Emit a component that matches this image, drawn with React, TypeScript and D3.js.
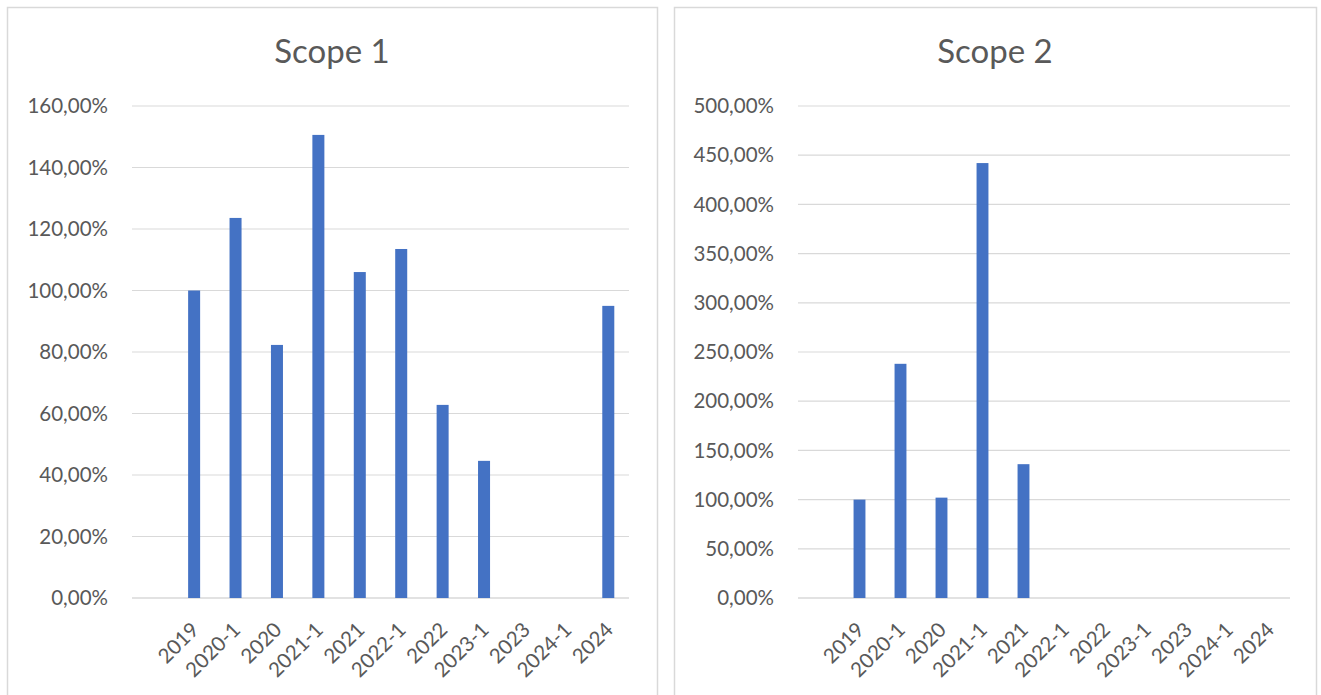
import React, { useEffect, useRef } from 'react'
import * as d3 from 'd3'

// first category is blank in the source workbook
const categories = ['', '2019', '2020-1', '2020', '2021-1', '2021', '2022-1', '2022', '2023-1', '2023', '2024-1', '2024']

const scope1Values: (number | null)[] = [null, 100, 123.6, 82.3, 150.6, 106.0, 113.5, 62.8, 44.6, null, null, 95.0]
const scope2Values: (number | null)[] = [null, 100, 238, 102, 442, 136, null, null, null, null, null, null]

const scope1Ticks = [0, 20, 40, 60, 80, 100, 120, 140, 160]
const scope2Ticks = [0, 50, 100, 150, 200, 250, 300, 350, 400, 450, 500]

const FONT = 'Lato, "Open Sans", sans-serif'
const TEXT = '#595959'
const GRID = '#D9D9D9'
const BAR = '#4472C4'

const fmt = (v: number) => v.toFixed(2).replace('.', ',') + '%'

interface PanelSpec {
  title: string
  values: (number | null)[]
  ticks: number[]
  box: { x: number; y: number; w: number; h: number }
  plot: { left: number; right: number; top: number; bottom: number }
}

const panels: PanelSpec[] = [
  {
    title: 'Scope 1',
    values: scope1Values,
    ticks: scope1Ticks,
    box: { x: 7, y: 7, w: 650, h: 700 },
    plot: { left: 132, right: 629, top: 106, bottom: 598 },
  },
  {
    title: 'Scope 2',
    values: scope2Values,
    ticks: scope2Ticks,
    box: { x: 674, y: 7, w: 642, h: 700 },
    plot: { left: 798, right: 1290, top: 106, bottom: 598 },
  },
]

export default function App() {
  const svgRef = useRef<SVGSVGElement>(null)

  useEffect(() => {
    if (!svgRef.current) return
    const svg = d3.select(svgRef.current)
    svg.selectAll('*').remove()

    panels.forEach((p) => {
      const g = svg.append('g')

      g.append('rect')
        .attr('x', p.box.x + 0.5)
        .attr('y', p.box.y + 0.5)
        .attr('width', p.box.w)
        .attr('height', p.box.h)
        .attr('fill', '#fff')
        .attr('stroke', GRID)
        .attr('stroke-width', 1.5)

      g.append('text')
        .attr('x', p.box.x + p.box.w / 2)
        .attr('y', 63)
        .attr('text-anchor', 'middle')
        .attr('fill', TEXT)
        .style('font-family', FONT)
        .style('font-size', '33px')
        .text(p.title)

      const x = d3.scaleBand<string>()
        .domain(categories.map((c, i) => i + '|' + c))
        .range([p.plot.left, p.plot.right])
        .paddingInner(0.71)
        .paddingOuter(0.355)

      const maxTick = p.ticks[p.ticks.length - 1]
      const y = d3.scaleLinear().domain([0, maxTick]).range([p.plot.bottom, p.plot.top])

      // gridlines
      g.append('g')
        .selectAll('line')
        .data(p.ticks)
        .enter()
        .append('line')
        .attr('x1', p.plot.left)
        .attr('x2', p.plot.right)
        .attr('y1', (d) => y(d))
        .attr('y2', (d) => y(d))
        .attr('stroke', GRID)
        .attr('stroke-width', (d) => (d === 0 ? 1.5 : 1.2))

      // y labels
      g.append('g')
        .selectAll('text')
        .data(p.ticks)
        .enter()
        .append('text')
        .attr('x', p.plot.left - 24)
        .attr('y', (d) => y(d))
        .attr('dy', '0.35em')
        .attr('text-anchor', 'end')
        .attr('fill', TEXT)
        .style('font-family', FONT)
        .style('font-size', '20.5px')
        .text((d) => fmt(d))

      // bars
      const keys = x.domain()
      g.append('g')
        .selectAll('rect')
        .data(p.values.map((v, i) => ({ key: keys[i], v })).filter((d) => d.v != null))
        .enter()
        .append('rect')
        .attr('x', (d) => x(d.key) as number)
        .attr('width', x.bandwidth())
        .attr('y', (d) => y(d.v as number))
        .attr('height', (d) => p.plot.bottom - y(d.v as number))
        .attr('fill', BAR)

      // x labels
      g.append('g')
        .selectAll('text')
        .data(keys)
        .enter()
        .append('text')
        .attr('transform', (k) => {
          const cx = (x(k) as number) + x.bandwidth() / 2 + 6
          return `translate(${cx},${p.plot.bottom + 33}) rotate(-45)`
        })
        .attr('text-anchor', 'end')
        .attr('fill', TEXT)
        .style('font-family', FONT)
        .style('font-size', '20.5px')
        .text((k) => k.split('|')[1])
    })
  }, [])

  return (
    <svg
      ref={svgRef}
      width={1321}
      height={695}
      style={{ position: 'absolute', left: 0, top: 0, background: '#fff' }}
    />
  )
}
